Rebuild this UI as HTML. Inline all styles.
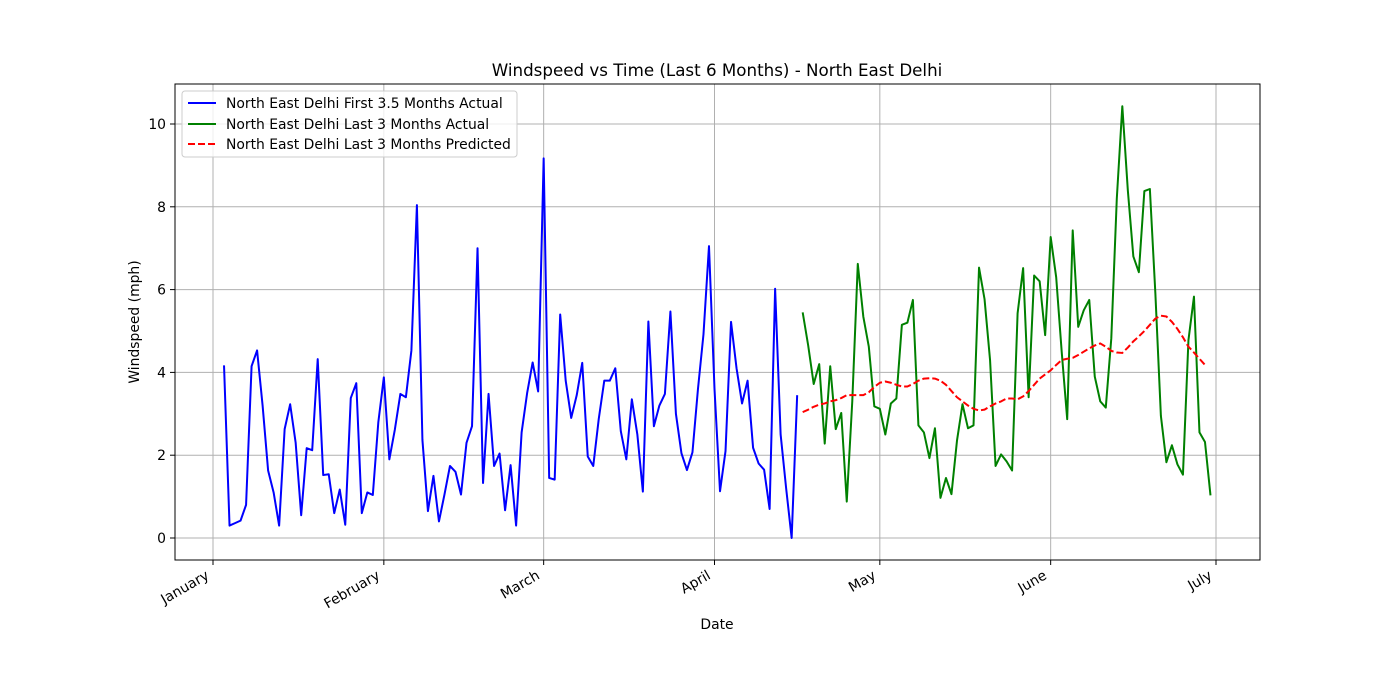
<!DOCTYPE html>
<html><head><meta charset="utf-8"><style>
body{margin:0;background:#fff;}
svg{display:block;font-family:"DejaVu Sans","Liberation Sans",sans-serif;}
</style></head><body>
<svg id="chart" width="1400" height="700" viewBox="0 0 1400 700" xmlns="http://www.w3.org/2000/svg">
<rect width="1400" height="700" fill="#fff"/>
<g id="grid"></g>
<g id="series"></g>
<rect x="175" y="84" width="1085" height="476" fill="none" stroke="#000" stroke-width="1"/>
<g id="axes"></g>
<text x="717" y="76" text-anchor="middle" font-size="16.7">Windspeed vs Time (Last 6 Months) - North East Delhi</text>
<text x="717" y="629" text-anchor="middle" font-size="13.9">Date</text>
<text transform="translate(139,322) rotate(-90)" text-anchor="middle" font-size="13.9">Windspeed (mph)</text>
<g>
<rect x="182" y="91" width="335" height="66" rx="3" fill="#fff" fill-opacity="0.8" stroke="#ccc"/>
<line x1="188" y1="103" x2="216" y2="103" stroke="#0000ff" stroke-width="2"/>
<text x="226" y="108" font-size="13.9">North East Delhi First 3.5 Months Actual</text>
<line x1="188" y1="124" x2="216" y2="124" stroke="#008000" stroke-width="2"/>
<text x="226" y="129" font-size="13.9">North East Delhi Last 3 Months Actual</text>
<line x1="188" y1="144" x2="216" y2="144" stroke="#ff0000" stroke-width="2" stroke-dasharray="7,3"/>
<text x="226" y="149" font-size="13.9">North East Delhi Last 3 Months Predicted</text>
</g>
</svg>
<script>
const blueStartDay = 2;
const blueValues = [4.17,0.3,0.36,0.42,0.8,4.15,4.53,3.2,1.63,1.1,0.3,2.63,3.23,2.3,0.55,2.17,2.12,4.32,1.52,1.54,0.6,1.17,0.32,3.38,3.74,0.6,1.1,1.04,2.8,3.88,1.9,2.62,3.48,3.4,4.53,8.04,2.37,0.65,1.5,0.4,1.05,1.74,1.6,1.05,2.3,2.7,7.0,1.33,3.48,1.74,2.04,0.67,1.76,0.3,2.55,3.5,4.24,3.54,9.17,1.45,1.41,5.4,3.8,2.9,3.45,4.23,1.97,1.74,2.88,3.8,3.8,4.1,2.58,1.9,3.35,2.5,1.12,5.23,2.7,3.2,3.48,5.47,3.0,2.05,1.64,2.07,3.6,4.92,7.05,3.6,1.13,2.1,5.22,4.1,3.25,3.8,2.18,1.8,1.65,0.7,6.02,2.5,1.2,0.0,3.45];
const greenStartDay = 107;
const greenValues = [5.45,4.65,3.72,4.2,2.28,4.15,2.63,3.02,0.88,3.3,6.62,5.35,4.62,3.18,3.12,2.5,3.25,3.37,5.15,5.2,5.75,2.72,2.55,1.93,2.65,0.97,1.45,1.06,2.35,3.23,2.65,2.72,6.53,5.77,4.3,1.74,2.02,1.85,1.63,5.43,6.52,3.4,6.34,6.2,4.9,7.27,6.3,4.5,2.87,7.43,5.1,5.5,5.75,3.9,3.3,3.15,4.82,8.2,10.43,8.4,6.8,6.42,8.38,8.43,5.9,2.95,1.83,2.24,1.78,1.53,4.78,5.83,2.55,2.32,1.03];
const redStartDay = 107;
const redValues = [3.04,3.1,3.17,3.22,3.25,3.3,3.33,3.38,3.45,3.45,3.45,3.45,3.52,3.65,3.75,3.78,3.75,3.7,3.66,3.66,3.72,3.8,3.85,3.86,3.85,3.8,3.7,3.55,3.4,3.3,3.2,3.12,3.08,3.1,3.18,3.25,3.3,3.37,3.37,3.35,3.42,3.55,3.7,3.85,3.95,4.05,4.18,4.3,4.33,4.35,4.42,4.5,4.58,4.65,4.7,4.62,4.52,4.48,4.47,4.6,4.75,4.87,5.0,5.15,5.3,5.37,5.35,5.22,5.05,4.85,4.62,4.48,4.33,4.18];
const monthLabels = ["January","February","March","April","May","June","July"];
const monthDays = [0,31,60,91,121,152,182];
const yTicks = [0,2,4,6,8,10];

const NS = "http://www.w3.org/2000/svg";
const x = d => 213 + d * (1003/182);
const y = v => 538 - v * 41.4;
function mk(tag, attrs, parent){const e=document.createElementNS(NS,tag);for(const k in attrs)e.setAttribute(k,attrs[k]);parent.appendChild(e);return e;}
const grid=document.getElementById('grid'), axes=document.getElementById('axes'), series=document.getElementById('series');
monthDays.forEach((d,i)=>{
  const gl=mk('line',{x1:x(d),x2:x(d),y1:84,y2:560,stroke:'#b0b0b0','stroke-width':1},grid);
  
  
  const t=mk('line',{x1:x(d),x2:x(d),y1:560,y2:565,stroke:'#000'},axes);
  
  
  const ax=x(d)-3, ay=578;
  const tx=mk('text',{x:ax,y:ay,'font-size':13.9,'text-anchor':'end',transform:`rotate(-30 ${ax} ${ay})`},axes);
  tx.textContent=monthLabels[i];
  
  
});
yTicks.forEach(v=>{
  const gl=mk('line',{x1:175,x2:1260,y1:y(v),y2:y(v),stroke:'#b0b0b0','stroke-width':1},grid);
  
  
  const t=mk('line',{x1:170,x2:175,y1:y(v),y2:y(v),stroke:'#000'},axes);
  
  
  const tx=mk('text',{x:166,y:y(v)+5,'font-size':13.9,'text-anchor':'end'},axes);
  tx.textContent=String(v);
  
  
});
function line(vals,start,color,dash,name){
  const pts=vals.map((v,i)=>x(start+i).toFixed(2)+','+y(v).toFixed(2)).join(' ');
  const p=mk('polyline',{points:pts,fill:'none',stroke:color,'stroke-width':2,'stroke-linejoin':'round'},series);
  if(dash)p.setAttribute('stroke-dasharray',dash);
  
  
}
line(blueValues,blueStartDay,'#0000ff',null,'first-months-actual-line');
line(greenValues,greenStartDay,'#008000',null,'last-months-actual-line');
line(redValues,redStartDay,'#ff0000','7,3','last-months-predicted-line');
</script>
</body></html>
